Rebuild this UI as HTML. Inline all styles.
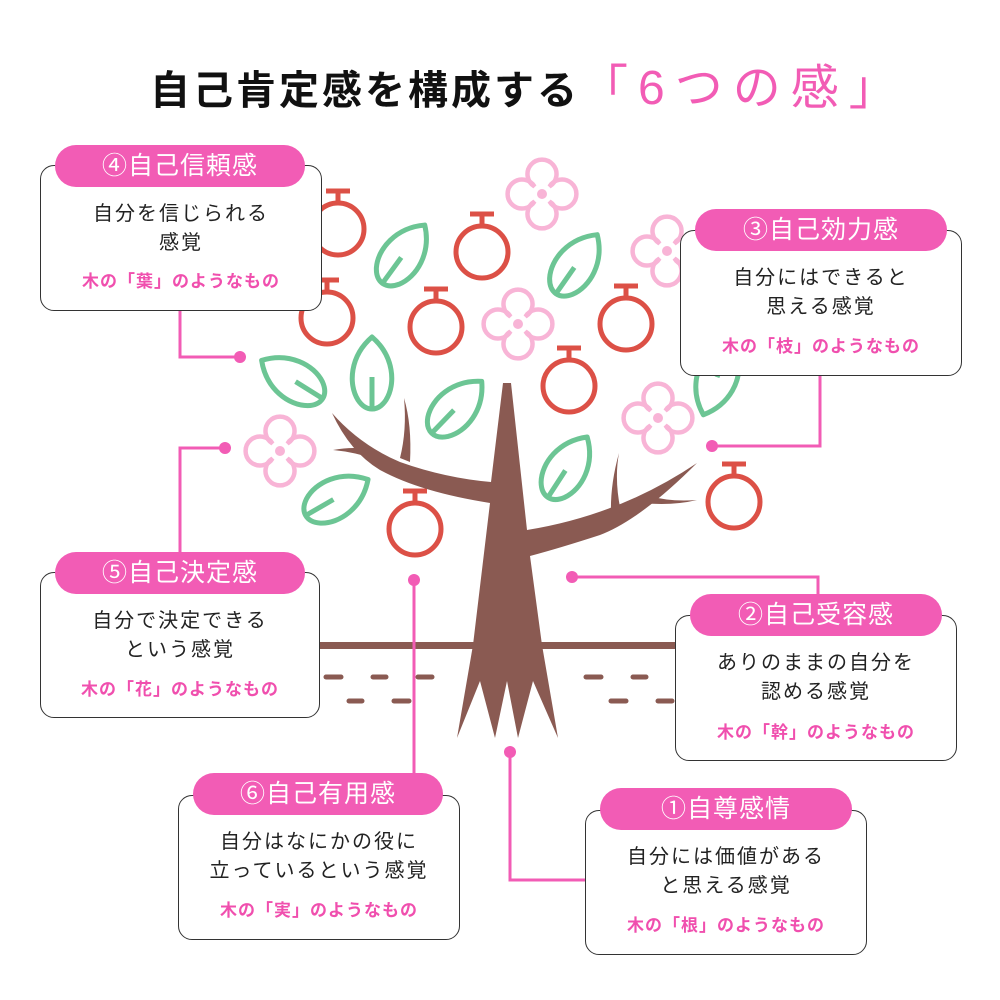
<!DOCTYPE html>
<html><head><meta charset="utf-8"><style>
html,body{margin:0;padding:0;background:#fff}
body{width:1000px;height:1000px;position:relative;overflow:hidden;font-family:"Liberation Sans","Noto Sans CJK JP",sans-serif}
svg{position:absolute;left:0;top:0}
.box{position:absolute;border:1.5px solid #333;border-radius:14px;background:#fff;box-sizing:border-box;text-align:center}
.pill{position:absolute;background:#f25cb5;color:#fff;border-radius:21px;height:42px;line-height:42px;text-align:center;font-size:25px;letter-spacing:1px}
.t{position:absolute;left:0;right:0;text-align:center;font-size:20px;color:#222;line-height:29px;letter-spacing:2px}
.p{position:absolute;left:0;right:0;text-align:center;font-size:17px;color:#f04fae;font-weight:bold;letter-spacing:1px}
.title{position:absolute;top:48px;left:150px;white-space:nowrap;font-size:40px;font-weight:bold;color:#111;letter-spacing:3px}
.title span{color:#f25cb5;font-weight:normal;font-size:48px;letter-spacing:10px}
</style></head><body>
<div class="title">自己肯定感を構成する<span>「6つの感」</span></div>
<svg width="1000" height="1000" viewBox="0 0 1000 1000">
<defs>
<g id="apple" fill="none" stroke="#dc5046" stroke-width="5"><circle cx="0" cy="0" r="26"/><line x1="0" y1="-26" x2="0" y2="-38"/><line x1="-12" y1="-38" x2="12" y2="-38"/></g>
<g id="leaf" fill="none" stroke="#6cc594" stroke-width="5" stroke-linejoin="round"><path d="M0,-37 C22,-18 24,10 14,26 C6,38 -6,38 -14,26 C-24,10 -22,-18 0,-37Z"/><line x1="0" y1="33" x2="0" y2="3"/></g>
<g id="flower"><path d="M-7.5,-7.5 A14.5 14.5 0 1 1 7.5,-7.5 A14.5 14.5 0 1 1 7.5,7.5 A14.5 14.5 0 1 1 -7.5,7.5 A14.5 14.5 0 1 1 -7.5,-7.5Z" fill="none" stroke="#f8b4d6" stroke-width="4.5"/><circle r="5" fill="#f8b4d6"/></g>
</defs>
<rect x="320" y="642" width="360" height="7" fill="#8a5a52"/>
<g stroke="#8a5a52" stroke-width="5" stroke-linecap="round">
<line x1="326" y1="677" x2="341" y2="677"/><line x1="373" y1="677" x2="386" y2="677"/><line x1="418" y1="677" x2="432" y2="677"/>
<line x1="586" y1="677" x2="601" y2="677"/><line x1="633" y1="677" x2="646" y2="677"/>
<line x1="349" y1="701" x2="362" y2="701"/><line x1="394" y1="701" x2="409" y2="701"/>
<line x1="611" y1="701" x2="626" y2="701"/><line x1="658" y1="701" x2="672" y2="701"/>
</g>
<use href="#leaf" transform="translate(403,255) rotate(36)"/>
<use href="#leaf" transform="translate(576,265) rotate(35)"/>
<use href="#leaf" transform="translate(293,380) rotate(-58)"/>
<use href="#leaf" transform="translate(372,374)"/>
<use href="#leaf" transform="translate(456,408) rotate(44)"/>
<use href="#leaf" transform="translate(336,498) rotate(60)"/>
<use href="#leaf" transform="translate(567,468) rotate(33)"/>
<use href="#leaf" transform="translate(716,380) rotate(200)"/>
<use href="#flower" transform="translate(542,194)"/>
<use href="#flower" transform="translate(518,324)"/>
<use href="#flower" transform="translate(667,251)"/>
<use href="#flower" transform="translate(280,451)"/>
<use href="#flower" transform="translate(658,418)"/>
<use href="#apple" transform="translate(338,229)"/>
<use href="#apple" transform="translate(482,252)"/>
<use href="#apple" transform="translate(327,318)"/>
<use href="#apple" transform="translate(436,327)"/>
<use href="#apple" transform="translate(626,324)"/>
<use href="#apple" transform="translate(569,386)"/>
<use href="#apple" transform="translate(415,529)"/>
<use href="#apple" transform="translate(734,502)"/>
<g fill="#8a5a52">
<path d="M503,383 L511,383 L527,530 Q620,515 697,463 Q640,520 600,535 Q560,548 530,556 L542,645 L558,738 L533,681 L518,738 L507,681 L495,738 L480,681 L457,738 L473,645 L490,503 Q420,492 380,470 Q350,452 332,413 Q360,445 400,462 Q445,478 491,482 Z"/>
<path d="M404,398 Q412,425 410,462 L400,458 Q407,430 404,398Z"/>
<path d="M333,450 Q355,446 372,450 L378,460 Q355,452 333,450Z"/>
<path d="M619,453 Q614,480 621,512 L611,515 Q610,485 619,453Z"/>
<path d="M697,500 Q670,502 650,496 L642,503 Q672,506 697,500Z"/>
</g>
<g stroke="#f25cb5" stroke-width="3" fill="none">
<polyline points="180,311 180,357 240,357"/>
<polyline points="712,446 820,446 820,376"/>
<polyline points="225,448 180,448 180,552"/>
<polyline points="572,577 818,577 818,594"/>
<polyline points="414,580 414,773"/>
<polyline points="510,752 510,880 585,880"/>
</g>
<g fill="#f25cb5">
<circle cx="240" cy="357" r="6"/><circle cx="712" cy="446" r="6"/><circle cx="225" cy="448" r="6"/>
<circle cx="572" cy="577" r="6"/><circle cx="414" cy="580" r="6"/><circle cx="510" cy="752" r="6"/>
</g>
</svg>

<div class="box" style="left:40px;top:165px;width:282px;height:146px"><div class="t" style="top:34px">自分を信じられる<br>感覚</div><div class="p" style="top:101px">木の「葉」のようなもの</div></div>
<div class="pill" style="left:55px;top:145px;width:250px">④自己信頼感</div>

<div class="box" style="left:680px;top:230px;width:282px;height:146px"><div class="t" style="top:33px">自分にはできると<br>思える感覚</div><div class="p" style="top:101px">木の「枝」のようなもの</div></div>
<div class="pill" style="left:695px;top:209px;width:252px">③自己効力感</div>

<div class="box" style="left:40px;top:572px;width:280px;height:146px"><div class="t" style="top:34px">自分で決定できる<br>という感覚</div><div class="p" style="top:102px">木の「花」のようなもの</div></div>
<div class="pill" style="left:55px;top:552px;width:250px">⑤自己決定感</div>

<div class="box" style="left:675px;top:615px;width:282px;height:146px"><div class="t" style="top:33px">ありのままの自分を<br>認める感覚</div><div class="p" style="top:102px">木の「幹」のようなもの</div></div>
<div class="pill" style="left:690px;top:594px;width:252px">②自己受容感</div>

<div class="box" style="left:178px;top:795px;width:282px;height:145px"><div class="t" style="top:32px">自分はなにかの役に<br>立っているという感覚</div><div class="p" style="top:100px">木の「実」のようなもの</div></div>
<div class="pill" style="left:193px;top:773px;width:250px">⑥自己有用感</div>

<div class="box" style="left:585px;top:810px;width:282px;height:145px"><div class="t" style="top:32px">自分には価値がある<br>と思える感覚</div><div class="p" style="top:100px">木の「根」のようなもの</div></div>
<div class="pill" style="left:600px;top:788px;width:252px">①自尊感情</div>
</body></html>
